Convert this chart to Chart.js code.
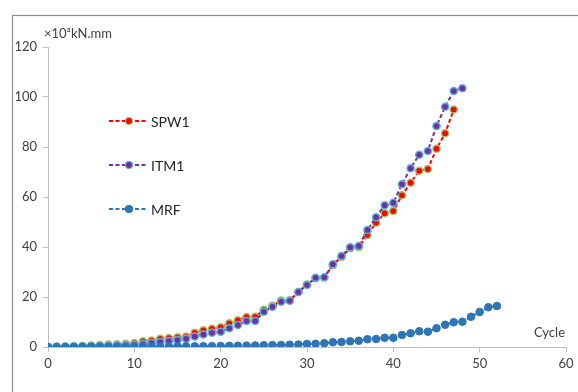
<!DOCTYPE html>
<html><head><meta charset="utf-8">
<script src="https://cdn.jsdelivr.net/npm/chart.js@4/dist/chart.umd.min.js"></script>
<style>html,body{margin:0;padding:0;background:#fff}#wrap{width:578px;height:392px}</style>
</head><body><div id="wrap"><canvas id="c" width="578" height="392"></canvas></div>
<script>
const seriesNames = ["SPW1", "ITM1", "MRF"];
const xTicks = [0, 10, 20, 30, 40, 50, 60];
const yTicks = [0, 20, 40, 60, 80, 100, 120];
const yUnit = "×10³kN.mm";
const xTitle = "Cycle";
// values per cycle (index = cycle number)
const spw1 = [0,0.1,0.2,0.3,0.4,0.6,0.8,1.0,1.1,1.3,1.6,2.3,2.6,3.3,3.6,3.9,4.2,5.7,6.7,7.3,7.9,9.5,10.7,12,12.1,14.9,16.5,18.6,18.7,22,25,27.5,27.8,32.8,36,39.5,40,44.8,49.7,53.5,54.4,60.7,65.7,70.5,71.2,79.3,85.5,95];
const itm1 = [0,0.05,0.1,0.15,0.2,0.3,0.4,0.5,0.6,0.7,0.9,1.2,1.6,2.0,2.4,2.8,3.3,4.2,5.0,5.7,6.1,7.5,8.8,10.4,10.4,14.1,16.1,18.1,18.5,22,24.8,27.7,27.9,33.1,36.4,39.9,40.4,46.8,51.9,56.7,57.7,65.1,71.5,76.9,78.4,88.4,96.1,102.4,103.5];
const mrf = [0,0,0,0.05,0.05,0.1,0.1,0.1,0.1,0.15,0.15,0.2,0.2,0.2,0.25,0.25,0.3,0.3,0.3,0.35,0.4,0.45,0.5,0.55,0.6,0.65,0.75,0.8,0.9,1.0,1.2,1.3,1.5,1.9,2.0,2.3,2.5,3.1,3.2,3.7,3.7,4.8,5.5,6.3,6.1,7.5,8.9,9.9,10.1,12.1,14,15.9,16.4];

const toPts = arr => arr.map((v, i) => ({x: i, y: v}));
const FONT = "Lato, 'Open Sans', sans-serif";

const frame = {
  id: 'frame',
  beforeDraw(chart) {
    const ctx = chart.ctx;
    ctx.save();
    ctx.fillStyle = '#fff';
    ctx.fillRect(0, 0, chart.width, chart.height);
    ctx.strokeStyle = '#8c8c8c';
    ctx.lineWidth = 1.2;
    ctx.strokeRect(12.5, 15.5, 700, 500);
    ctx.restore();
  },
  afterDraw(chart) {
    const ctx = chart.ctx;
    const ca = chart.chartArea;
    ctx.save();
    ctx.fillStyle = '#404040';
    ctx.font = "13px " + FONT;
    ctx.textBaseline = 'middle';
    ctx.textAlign = 'left';
    ctx.fillText(yUnit, 44, 34);
    ctx.textAlign = 'right';
    ctx.fillText(xTitle, 565, 333);
    // legend
    const ys = [121, 165, 209];
    chart.data.datasets.forEach((ds, i) => {
      const y = ys[i];
      ctx.strokeStyle = ds.borderColor;
      ctx.lineWidth = 2;
      ctx.setLineDash(ds.borderDash);
      ctx.beginPath(); ctx.moveTo(109, y); ctx.lineTo(148, y); ctx.stroke();
      ctx.setLineDash([]);
      ctx.beginPath(); ctx.arc(129, y, 3.5, 0, Math.PI * 2);
      ctx.fillStyle = ds.pointBackgroundColor; ctx.fill();
      ctx.lineWidth = 1.2; ctx.strokeStyle = ds.pointBorderColor; ctx.stroke();
      ctx.fillStyle = '#262626';
      ctx.font = "14px " + FONT;
      ctx.textAlign = 'left';
      ctx.fillText(ds.label, 151, y + 1);
    });
    ctx.restore();
  }
};

new Chart(document.getElementById('c'), {
  type: 'line',
  data: {
    datasets: [
      {label: seriesNames[0], data: toPts(spw1), borderColor: '#FF0000', borderWidth: 2, borderDash: [4, 2.5],
       pointBackgroundColor: '#FF0000', pointBorderColor: '#A5C26B', pointBorderWidth: 1.5, pointRadius: 3.6, order: 3},
      {label: seriesNames[1], data: toPts(itm1), borderColor: '#7030A0', borderWidth: 2, borderDash: [4, 2.5],
       pointBackgroundColor: '#7030A0', pointBorderColor: '#5FB0D8', pointBorderWidth: 1.5, pointRadius: 3.6, order: 2},
      {label: seriesNames[2], data: toPts(mrf), borderColor: '#2E75B6', borderWidth: 2, borderDash: [4, 2.5],
       pointBackgroundColor: '#2E75B6', pointBorderColor: '#2E75B6', pointBorderWidth: 1, pointRadius: 3.8, order: 1}
    ]
  },
  options: {
    responsive: false,
    animation: false,
    layout: {padding: {left: 0, right: 12, top: 47, bottom: 0}},
    plugins: {legend: {display: false}, tooltip: {enabled: false}},
    scales: {
      x: {
        type: 'linear', min: 0, max: 60,
        afterBuildTicks: s => { s.ticks = xTicks.map(v => ({value: v})); },
        afterFit: s => { s.height = 45; },
        border: {display: true, color: '#BFBFBF', width: 1},
        grid: {display: true, drawOnChartArea: false, drawTicks: true, tickLength: 5, color: '#BFBFBF'},
        ticks: {color: '#404040', font: {family: FONT, size: 13}, padding: 4, maxRotation: 0}
      },
      y: {
        min: 0, max: 120,
        afterBuildTicks: s => { s.ticks = yTicks.map(v => ({value: v})); },
        afterFit: s => { s.width = 48; },
        border: {display: true, color: '#BFBFBF', width: 1},
        grid: {display: true, drawOnChartArea: false, drawTicks: true, tickLength: 5, color: '#BFBFBF'},
        ticks: {color: '#404040', font: {family: FONT, size: 13}, padding: 6}
      }
    }
  },
  plugins: [frame]
});
</script></body></html>
